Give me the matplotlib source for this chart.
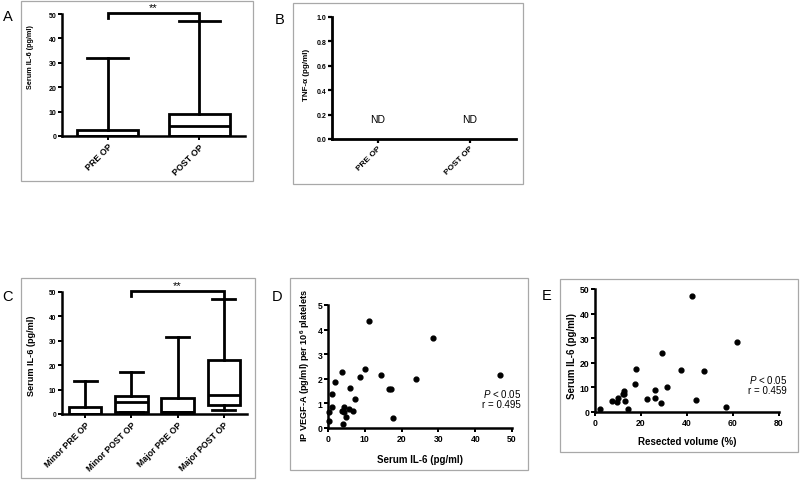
import matplotlib
matplotlib.use("Agg")
import matplotlib.pyplot as plt
from matplotlib.patches import Rectangle

plt.rcParams['font.family'] = ['Liberation Sans', 'DejaVu Sans']
plt.rcParams['mathtext.fontset'] = 'custom'
plt.rcParams['mathtext.rm'] = 'Liberation Sans:bold'
plt.rcParams['mathtext.bf'] = 'Liberation Sans:bold'
plt.rcParams['mathtext.it'] = 'Liberation Sans:italic'

# ---------------- data ----------------
# Panel A: serum IL-6 box stats
a_labels = ["PRE OP", "POST OP"]
a_whislo = [0.0, 0.0]
a_q1 = [0.0, 0.0]
a_med = [0.0, 4.1]
a_q3 = [2.3, 8.9]
a_whishi = [31.8, 47.3]

# Panel B: TNF-alpha not detected
b_labels = ["PRE OP", "POST OP"]
b_text = ["ND", "ND"]

# Panel C: serum IL-6 by resection size
c_labels = ["Minor PRE OP", "Minor POST OP", "Major PRE OP", "Major POST OP"]
c_whislo = [0.0, 0.7, 0.7, 1.8]
c_q1 = [0.0, 0.7, 0.7, 3.8]
c_med = [0.0, 4.8, 0.7, 7.8]
c_q3 = [2.7, 7.5, 6.5, 22.2]
c_whishi = [13.4, 17.4, 31.6, 47.0]

# Panel D: IP VEGF-A vs serum IL-6
d_x = [11.2, 28.5, 46.8, 24.0, 14.5, 10.05, 8.7, 3.7, 1.8, 1.2, 1.1, 0.2, 0.4,
       5.9, 7.3, 16.5, 17.1, 17.6, 3.7, 4.4, 4.3, 5.0, 4.1, 5.8, 6.9]
d_y = [4.34, 3.64, 2.16, 2.01, 2.15, 2.39, 2.08, 2.28, 1.88, 1.39, 0.84, 0.65, 0.28,
       1.64, 1.18, 1.57, 1.57, 0.39, 0.69, 0.86, 0.65, 0.43, 0.18, 0.77, 0.70]
d_stats = ["0.05", "0.495"]

# Panel E: serum IL-6 vs resected volume
e_x = [42.0, 61.7, 29.2, 37.2, 47.6, 17.7, 17.5, 25.9, 31.4, 12.5, 12.2, 12.8,
       10.2, 7.3, 9.6, 13.2, 22.4, 26.3, 28.7, 43.9, 56.9, 14.3, 2.2]
e_y = [47.2, 28.6, 24.0, 17.2, 16.5, 17.6, 11.2, 9.1, 10.2, 8.7, 7.2, 7.3,
       5.8, 4.5, 3.9, 4.6, 5.1, 5.8, 3.8, 4.7, 1.9, 1.2, 1.2]
e_stats = ["0.05", "0.459"]

# ---------------- layout helpers ----------------
W, H = 800, 481
fig = plt.figure(figsize=(W / 100, H / 100), dpi=100)


def px_axes(l, r, t, b):
    return fig.add_axes([l / W, 1 - b / H, (r - l) / W, (b - t) / H])


def frame(x0, x1, y0, y1):
    fig.patches.append(Rectangle((x0 / W, 1 - y1 / H), (x1 - x0) / W, (y1 - y0) / H,
                                 transform=fig.transFigure, fill=False,
                                 edgecolor='#a8a8a8', lw=0.9, zorder=0))


def ftext(x, y, s, **kw):
    fig.text(x / W, 1 - y / H, s, **kw)


def style(ax, lw=1.8, tsize=5, xsize=5):
    for sp in ['top', 'right']:
        ax.spines[sp].set_visible(False)
    for sp in ['left', 'bottom']:
        ax.spines[sp].set_linewidth(lw)
        ax.spines[sp].set_capstyle('projecting')
    ax.tick_params(axis='both', direction='out', width=lw * 0.8, length=3, pad=1)
    ax.tick_params(axis='y', labelsize=tsize)
    ax.tick_params(axis='x', labelsize=xsize)
    for t in ax.get_yticklabels() + ax.get_xticklabels():
        t.set_fontweight('bold')
    ax.set_facecolor('none')


def boxes(ax, labels, wl, q1, md, q3, wh, width, capw):
    stats = [dict(label=lab, whislo=a, q1=b, med=c, q3=d, whishi=e, fliers=[])
             for lab, a, b, c, d, e in zip(labels, wl, q1, md, q3, wh)]
    lw = 2.0
    ax.bxp(stats, positions=range(len(stats)), widths=width, capwidths=capw,
           showfliers=False, patch_artist=True,
           boxprops=dict(facecolor='white', edgecolor='black', linewidth=lw),
           medianprops=dict(color='black', linewidth=lw),
           whiskerprops=dict(color='black', linewidth=lw),
           capprops=dict(color='black', linewidth=lw), manage_ticks=False)
    ax.set_xticks(range(len(labels)))
    ax.set_xticklabels(labels)


def rot_labels(ax):
    for t in ax.get_xticklabels():
        t.set_rotation(45)
        t.set_ha('right')
        t.set_va('top')
        t.set_rotation_mode('anchor')


def bracket(ax, x0, x1, ylo, ytop, yhi):
    ax.plot([x0, x0, x1, x1], [ylo, ytop, ytop, yhi], color='black', lw=2.0,
            clip_on=False, solid_joinstyle='miter', zorder=5)
    ax.text((x0 + x1) / 2, ytop + 0.2, "**", ha='center', va='bottom',
            fontsize=8, clip_on=False)


# ---------------- frames ----------------
frame(21, 253, 2, 182)
frame(293, 523, 4, 185)
frame(21, 255, 279, 479)
frame(290, 528, 279, 471)
frame(560, 798, 280, 453)

# ---------------- Panel A ----------------
axA = px_axes(62, 245, 15, 137)
boxes(axA, a_labels, a_whislo, a_q1, a_med, a_q3, a_whishi, 0.67, 0.45)
axA.set_xlim(-0.5, 1.5)
axA.set_ylim(0, 50)
axA.set_yticks(range(0, 51, 10))
style(axA, tsize=5, xsize=6.4)
rot_labels(axA)
bracket(axA, 0, 1, 48.5, 50.4, 47.3)
ftext(31, 57, "Serum IL-6 (pg/ml)", rotation=90, ha='center', va='center',
      fontsize=5.2, fontweight='bold')
ftext(8, 17, "A", ha='center', va='center', fontsize=10.5)

# ---------------- Panel B ----------------
axB = px_axes(332, 516, 18, 140)
axB.set_xlim(-0.5, 1.5)
axB.set_ylim(0, 1.0)
axB.set_yticks([0, 0.2, 0.4, 0.6, 0.8, 1.0])
axB.set_yticklabels(["0.0", "0.2", "0.4", "0.6", "0.8", "1.0"])
axB.set_xticks(range(len(b_labels)))
axB.set_xticklabels(b_labels)
style(axB, lw=2.0, tsize=5, xsize=6)
rot_labels(axB)
for i, s in enumerate(b_text):
    axB.text(i, 0.165, s, ha='center', va='center', fontsize=7.5)
ftext(307, 75, "TNF-α (pg/ml)", rotation=90, ha='center', va='center',
      fontsize=5.8, fontweight='bold')
ftext(280, 20, "B", ha='center', va='center', fontsize=10.5)

# ---------------- Panel C ----------------
axC = px_axes(62, 247, 293, 415)
boxes(axC, c_labels, c_whislo, c_q1, c_med, c_q3, c_whishi, 0.7, 0.5)
axC.set_xlim(-0.5, 3.5)
axC.set_ylim(0, 50)
axC.set_yticks(range(0, 51, 10))
style(axC, tsize=4.8, xsize=6.3)
rot_labels(axC)
bracket(axC, 1, 3, 48.3, 50.5, 47.0)
ftext(32, 356, "Serum IL-6 (pg/ml)", rotation=90, ha='center', va='center',
      fontsize=6.6, fontweight='bold')
ftext(7, 297, "C", ha='center', va='center', fontsize=10.5)

# ---------------- Panel D ----------------
axD = px_axes(328, 512, 306, 429)
axD.scatter(d_x, d_y, s=12, color='black', zorder=3, clip_on=False)
axD.set_xlim(0, 50)
axD.set_ylim(0, 5)
axD.set_xticks(range(0, 51, 10))
axD.set_yticks(range(0, 6))
style(axD, tsize=6.2, xsize=6.2)
axD.text(1.049, 0.285, r"$\mathit{P}$ < " + d_stats[0], transform=axD.transAxes,
         ha='right', va='center', fontsize=7)
axD.text(1.049, 0.195, "r = " + d_stats[1], transform=axD.transAxes,
         ha='right', va='center', fontsize=7)
ftext(305, 365, "IP VEGF-A (pg/ml) per 10$^{6}$ platelets", rotation=90,
      ha='center', va='center', fontsize=6.6, fontweight='bold')
ftext(420, 460, "Serum IL-6 (pg/ml)", ha='center', va='center',
      fontsize=7, fontweight='bold')
ftext(277, 297, "D", ha='center', va='center', fontsize=10.5)

# ---------------- Panel E ----------------
axE = px_axes(595, 779, 290, 413)
axE.scatter(e_x, e_y, s=12, color='black', zorder=3, clip_on=False)
axE.set_xlim(0, 80)
axE.set_ylim(0, 50)
axE.set_xticks(range(0, 81, 20))
axE.set_yticks(range(0, 51, 10))
style(axE, tsize=6.2, xsize=6.2)
axE.text(1.043, 0.27, r"$\mathit{P}$ < " + e_stats[0], transform=axE.transAxes,
         ha='right', va='center', fontsize=7)
axE.text(1.043, 0.175, "r = " + e_stats[1], transform=axE.transAxes,
         ha='right', va='center', fontsize=7)
ftext(572, 356, "Serum IL-6 (pg/ml)", rotation=90, ha='center', va='center',
      fontsize=7, fontweight='bold')
ftext(687, 442, "Resected volume (%)", ha='center', va='center',
      fontsize=7, fontweight='bold')
ftext(547, 296, "E", ha='center', va='center', fontsize=10.5)

fig.savefig("out.png", dpi=100)
